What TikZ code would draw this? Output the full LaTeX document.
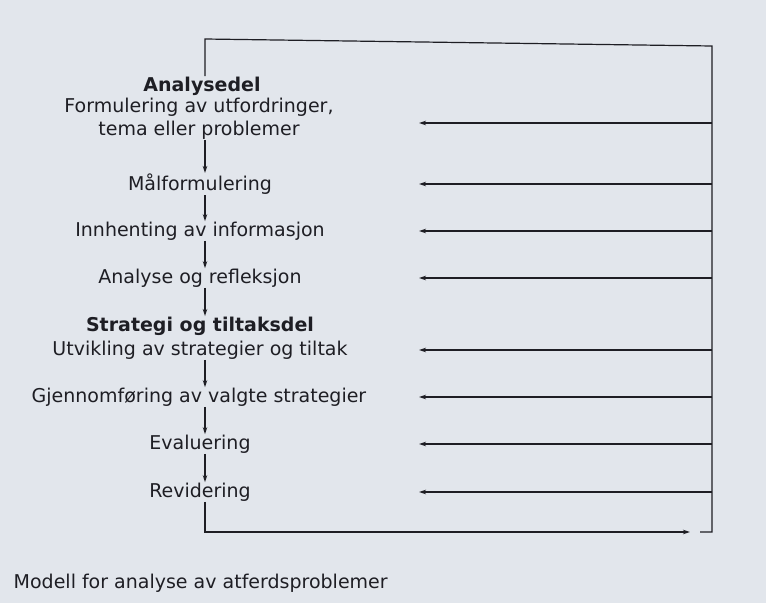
\documentclass[tikz,border=0pt]{standalone}
\usepackage{fontspec}
\setmainfont{DejaVu Sans}
\usetikzlibrary{arrows.meta}
\definecolor{paper}{RGB}{226,230,236}
\definecolor{ink}{RGB}{30,30,36}
\begin{document}
\begin{tikzpicture}[x=1pt,y=-1pt,
  item/.style={font=\fontsize{19}{23}\selectfont, text=ink, inner sep=0.5pt, anchor=center},
  head/.style={item, font=\fontsize{19}{23}\selectfont\bfseries},
  conn/.style={draw=ink, line width=1.2pt},
  arr/.style={conn, -{Stealth[length=7pt,width=4.5pt]}}]
\fill[paper] (0,0) rectangle (766,603);
\useasboundingbox (0,0) rectangle (766,603);
\coordinate (axis) at (205,0);
% left column
\node[head] (h1) at (202,86) {Analysedel};
\node[item, align=center] (a1) at (199,119) {Formulering av utfordringer,\\tema eller problemer};
\node[item] (a2) at (200,184) {Målformulering};
\node[item] (a3) at (200,231) {Innhenting av informasjon};
\node[item] (a4) at (200,278) {Analyse og refleksjon};
\node[head] (h2) at (200,326) {Strategi og tiltaksdel};
\node[item] (b1) at (200,350) {Utvikling av strategier og tiltak};
\node[item] (b2) at (199,397) {Gjennomføring av valgte strategier};
\node[item] (b3) at (200,444) {Evaluering};
\node[item] (b4) at (200,492) {Revidering};
% downward arrows
\draw[arr] (a1.south -| axis) -- (a2.north -| axis);
\draw[arr] (a2.south -| axis) -- (a3.north -| axis);
\draw[arr] (a3.south -| axis) -- (a4.north -| axis);
\draw[arr] (a4.south -| axis) -- (h2.north -| axis);
\draw[arr] (b1.south -| axis) -- (b2.north -| axis);
\draw[arr] (b2.south -| axis) -- (b3.north -| axis);
\draw[arr] (b3.south -| axis) -- (b4.north -| axis);
% feedback frame
\coordinate (tl) at (205,39);
\coordinate (tr) at (712,46);
\coordinate (br) at (712,532);
\coordinate (bs) at (700,532);
\coordinate (bl) at (205,532);
\coordinate (be) at (690,532);
\draw[conn] (h1.north -| axis) -- (tl) -- (tr) -- (br) -- (bs);
\draw[arr] (b4.south -| axis) -- (bl) -- (be);
% return arrows
\foreach \y/\n in {123/r1,184/r2,231/r3,278/r4,350/r5,397/r6,444/r7,492/r8}{
  \coordinate (\n s) at (712,\y);
  \coordinate (\n e) at (419,\y);
  \draw[arr] (\n s) -- (\n e);
}
% caption
\node[item, anchor=west] (cap) at (13,583) {Modell for analyse av atferdsproblemer};
\end{tikzpicture}
\end{document}
